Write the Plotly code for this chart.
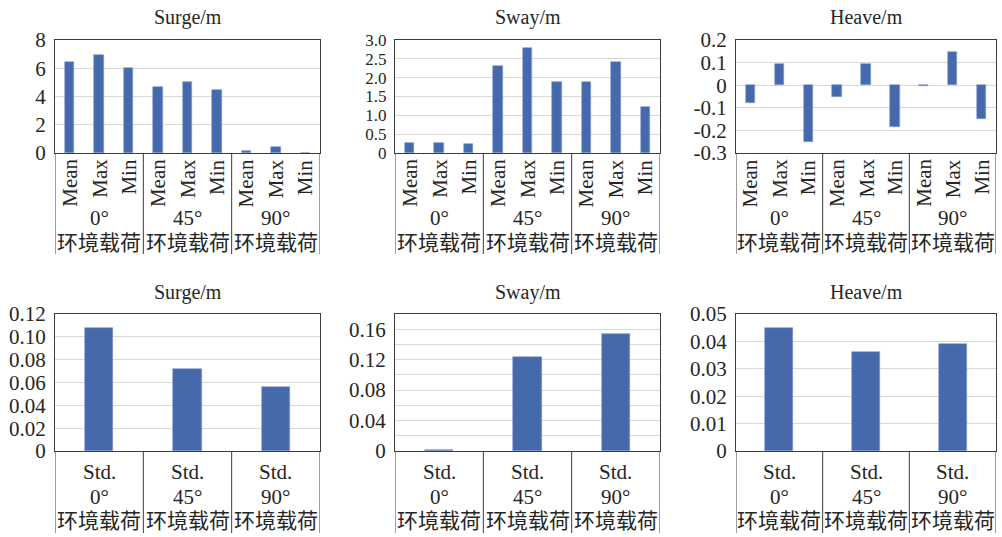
import plotly.graph_objects as go

# ---------------- data ----------------
angles = ["0°", "45°", "90°"]
group_word = "环境载荷"
stats = ["Mean", "Max", "Min"]

surge_vals = [6.45, 6.95, 6.05, 4.70, 5.00, 4.48, 0.15, 0.40, 0.01]
sway_vals = [0.27, 0.27, 0.24, 2.30, 2.80, 1.88, 1.88, 2.42, 1.23]
heave_vals = [-0.080, 0.095, -0.250, -0.050, 0.095, -0.187, -0.005, 0.148, -0.148]

surge_std = [0.108, 0.072, 0.056]
sway_std = [0.0015, 0.124, 0.154]
heave_std = [0.045, 0.0363, 0.039]

titles = ["Surge/m", "Sway/m", "Heave/m"]

top_ticks = [
    ([0, 2, 4, 6, 8], ["0", "2", "4", "6", "8"]),
    ([0, 0.5, 1.0, 1.5, 2.0, 2.5, 3.0], ["0", "0.5", "1.0", "1.5", "2.0", "2.5", "3.0"]),
    ([-0.3, -0.2, -0.1, 0, 0.1, 0.2], ["-0.3", "-0.2", "-0.1", "0", "0.1", "0.2"]),
]
bot_ticks = [
    ([0, 0.02, 0.04, 0.06, 0.08, 0.10, 0.12], ["0", "0.02", "0.04", "0.06", "0.08", "0.10", "0.12"]),
    ([0, 0.04, 0.08, 0.12, 0.16], ["0", "0.04", "0.08", "0.12", "0.16"]),
    ([0, 0.01, 0.02, 0.03, 0.04, 0.05], ["0", "0.01", "0.02", "0.03", "0.04", "0.05"]),
]
sway_std_minor = [0.02, 0.06, 0.10, 0.14]
top_ranges = [[0, 8], [0, 3], [-0.3, 0.2]]
bot_ranges = [[0, 0.12], [0, 0.18], [0, 0.05]]

# ---------------- layout geometry (pixels) ----------------
W, H = 1002, 537
col_px = [(55, 320), (395, 660), (736, 996)]
top_y_px = (40, 153)
bot_y_px = (314, 451)
top_tick_sizes = [21, 17, 21]

BAR = "#4569AB"
FRAME = "#3c3c3c"
GRID = "#d9d9d9"
TXT = "#262626"
FONT = "Liberation Serif, Times New Roman, Noto Sans CJK SC, serif"


def px_x(v):
    return v / W


def px_y(v):
    return 1 - v / H


def ann(text, x, xref, ypx, size=21, **kw):
    d = dict(text=text, x=x, xref=xref, y=px_y(ypx), yref="paper", showarrow=False,
             xanchor="center", yanchor="middle", font=dict(size=size, color=TXT, family=FONT))
    d.update(kw)
    return d


fig = go.Figure()
annotations = []
shapes = []

top_series = [surge_vals, sway_vals, heave_vals]
bot_series = [surge_std, sway_std, heave_std]

n_stats = len(stats)
n_top = len(angles) * n_stats

for i in range(3):
    l, r = col_px[i]
    # ---- top panel ----
    ax = i * 2 + 1
    xa = "x" if ax == 1 else f"x{ax}"
    ya = "y" if ax == 1 else f"y{ax}"
    xs = list(range(n_top))
    fig.add_trace(go.Bar(x=xs, y=top_series[i], xaxis=xa, yaxis=ya, width=0.32,
                         marker=dict(color=BAR, line=dict(color="#7f9ad0", width=0.6)),
                         showlegend=False))
    fig.layout[f"xaxis{ax}"] = dict(domain=[px_x(l), px_x(r)], range=[-0.5, n_top - 0.5],
                                    showticklabels=False, showgrid=False, zeroline=False,
                                    showline=True, mirror=True, linecolor=FRAME, linewidth=1,
                                    anchor=ya, fixedrange=True, automargin=False)
    tv, tt = top_ticks[i]
    fig.layout[f"yaxis{ax}"] = dict(domain=[px_y(top_y_px[1]), px_y(top_y_px[0])], range=top_ranges[i],
                                    tickvals=tv, ticktext=tt, showgrid=True, gridcolor=GRID,
                                    zeroline=True, zerolinecolor=GRID, zerolinewidth=1,
                                    showline=True, mirror=True, linecolor=FRAME, linewidth=1,
                                    ticks="", ticklabelstandoff=4,
                                    tickfont=dict(size=top_tick_sizes[i], color=TXT, family=FONT),
                                    anchor=xa, fixedrange=True, automargin=False)
    annotations.append(ann(titles[i], (px_x(l) + px_x(r)) / 2, "paper", 17, size=20))
    for k in range(n_top):
        annotations.append(ann(stats[k % n_stats], k, xa, 157, textangle=-90, yanchor="top"))
    for g, ang in enumerate(angles):
        cx = g * n_stats + (n_stats - 1) / 2
        annotations.append(ann(ang, cx, xa, 218))
        annotations.append(ann(group_word, cx, xa, 243))
    for g in range(len(angles) + 1):
        sx = g * n_stats - 0.5
        shapes.append(dict(type="line", xref=xa, yref="paper", x0=sx, x1=sx,
                           y0=px_y(top_y_px[1]), y1=px_y(254), line=dict(color=FRAME, width=1)))

    # ---- bottom panel ----
    ax = i * 2 + 2
    xa = f"x{ax}"
    ya = f"y{ax}"
    xs = list(range(len(angles)))
    fig.add_trace(go.Bar(x=xs, y=bot_series[i], xaxis=xa, yaxis=ya, width=0.32,
                         marker=dict(color=BAR, line=dict(color="#7f9ad0", width=0.6)),
                         showlegend=False))
    fig.layout[f"xaxis{ax}"] = dict(domain=[px_x(l), px_x(r)], range=[-0.5, len(angles) - 0.5],
                                    showticklabels=False, showgrid=False, zeroline=False,
                                    showline=True, mirror=True, linecolor=FRAME, linewidth=1,
                                    anchor=ya, fixedrange=True, automargin=False)
    tv, tt = bot_ticks[i]
    yax = dict(domain=[px_y(bot_y_px[1]), px_y(bot_y_px[0])], range=bot_ranges[i],
               tickvals=tv, ticktext=tt, showgrid=True, gridcolor=GRID,
               zeroline=False, showline=True, mirror=True, linecolor=FRAME, linewidth=1,
               ticks="", ticklabelstandoff=4,
               tickfont=dict(size=21, color=TXT, family=FONT),
               anchor=xa, fixedrange=True, automargin=False)
    if i == 1:
        yax["minor"] = dict(tickvals=sway_std_minor, showgrid=True, gridcolor=GRID, ticks="")
    fig.layout[f"yaxis{ax}"] = yax
    annotations.append(ann(titles[i], (px_x(l) + px_x(r)) / 2, "paper", 292, size=20))
    for g, ang in enumerate(angles):
        annotations.append(ann("Std.", g, xa, 472))
        annotations.append(ann(ang, g, xa, 497))
        annotations.append(ann(group_word, g, xa, 521))
    for g in range(len(angles) + 1):
        sx = g - 0.5
        shapes.append(dict(type="line", xref=xa, yref="paper", x0=sx, x1=sx,
                           y0=px_y(bot_y_px[1]), y1=px_y(533), line=dict(color=FRAME, width=1)))

fig.update_layout(width=W, height=H, margin=dict(l=0, r=0, t=0, b=0, autoexpand=False),
                  paper_bgcolor="white", plot_bgcolor="white",
                  annotations=annotations, shapes=shapes,
                  font=dict(family=FONT, color=TXT), bargap=0)

fig.write_html("out.html", config={"displayModeBar": False},
               post_script="document.body.style.margin='0px';document.body.style.overflow='hidden';")
